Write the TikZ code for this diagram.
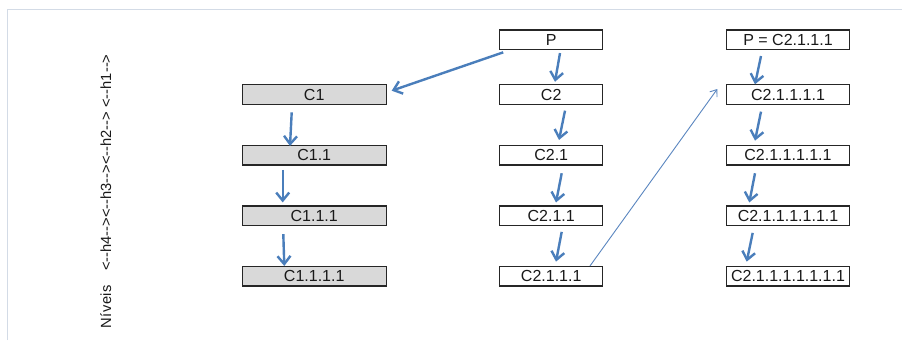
\documentclass[tikz,border=0pt]{standalone}
\usepackage{fontspec}
\setmainfont{Liberation Sans}[Ligatures=TeXOff]
\usetikzlibrary{arrows.meta,calc}
\definecolor{arrowblue}{HTML}{4A7EBB}
\definecolor{thinblue}{HTML}{5A86C0}
\definecolor{framegray}{HTML}{D3DBE6}
\definecolor{boxgray}{HTML}{D9D9D9}

\begin{document}
\begin{tikzpicture}[x=1pt,y=-1pt,
  box/.style={draw=black!85, line width=1.2pt, minimum height=19.5pt, inner sep=2pt,
              font=\fontsize{16}{18}\selectfont, text=black!90},
  leftbox/.style={box, fill=boxgray, minimum width=143.8pt},
  midbox/.style={box, fill=white, minimum width=102.8pt},
  rightbox/.style={box, fill=white, minimum width=122.8pt},
  link/.style={draw=arrowblue, line width=2.4pt, -{Straight Barb[length=8pt,width=13pt]}},
  jump/.style={draw=thinblue, line width=0.9pt, -{Straight Barb[length=6pt,width=9pt]}},
  frameline/.style={draw=framegray, line width=1pt},
]
\useasboundingbox (0,0) rectangle (902,340);
\fill[white] (0,0) rectangle (902,340);

% frame edges
\coordinate (ftl) at (7,9);
\coordinate (ftr) at (902,9);
\coordinate (fbl) at (7,340);
\draw[frameline] (fbl) -- (ftl) -- (ftr);

% level legend (the word is slightly letter-spaced)
\node[rotate=90, anchor=base west, inner sep=0pt, font=\fontsize{14.7}{17}\selectfont, text=black!90]
  (levels) at (111,329)
  {N\kern0.6pt í\kern0.6pt v\kern0.6pt e\kern0.6pt i\kern0.6pt s\hspace{14pt}<--h4--><--h3--><--h2--> <--h1-->};

% first chain
\node[leftbox] (c1)    at (314.2,94.6)  {C1};
\node[leftbox] (c11)   at (314.2,155.3) {C1.1};
\node[leftbox] (c111)  at (314.2,215.8) {C1.1.1};
\node[leftbox] (c1111) at (314.2,276.3) {C1.1.1.1};

% second chain
\node[midbox] (p)     at (551.2,39.7)  {P};
\node[midbox] (c2)    at (551.2,94.6)  {C2};
\node[midbox] (c21)   at (551.2,155.3) {C2.1};
\node[midbox] (c211)  at (551.2,215.8) {C2.1.1};
\node[midbox] (c2111) at (551.2,276.3) {C2.1.1.1};

% third chain
\node[rightbox] (q)  at (788,39.7)  {P = C2.1.1.1};
\node[rightbox] (d1) at (788,94.6)  {C2.1.1.1.1};
\node[rightbox] (d2) at (788,155.3) {C2.1.1.1.1.1};
\node[rightbox] (d3) at (788,215.8) {C2.1.1.1.1.1.1};
\node[rightbox] (d4) at (788,276.3) {C2.1.1.1.1.1.1.1};

% links of the first chain
\draw[link] ($(p.south west)+(4,2.3)$) -- ($(c1.east)+(5,-3.9)$);
\draw[link] ($(c1.south)+(-22.5,7.4)$)   -- ($(c11.north)+(-24.2,1)$);
\draw[link] ($(c11.south)+(-31.5,4.3)$)  -- ($(c111.north)+(-31.5,-3)$);
\draw[link] ($(c111.south)+(-30.9,8)$)   -- ($(c1111.north)+(-29.9,0)$);

% links of the second chain
\draw[link] ($(p.south)+(8.8,3)$)      -- ($(c2.north)+(3.8,-2.5)$);
\draw[link] ($(c2.south)+(13.8,5.7)$)  -- ($(c21.north)+(7.8,-5)$);
\draw[link] ($(c21.south)+(10.5,7.6)$) -- ($(c211.north)+(4.8,-3)$);
\draw[link] ($(c211.south)+(10.5,5.7)$) -- ($(c2111.north)+(4.8,-4.3)$);

% links of the third chain
\draw[link] ($(q.south)+(-27,6)$)     -- ($(d1.north)+(-33,0)$);
\draw[link] ($(d1.south)+(-27,6.7)$)  -- ($(d2.north)+(-33,-4.3)$);
\draw[link] ($(d2.south)+(-33,7.6)$)  -- ($(d3.north)+(-38.7,-3)$);
\draw[link] ($(d3.south)+(-35.3,6.7)$) -- ($(d4.north)+(-41.3,-4.3)$);

% jump to the new parent
\draw[jump] ($(c2111.north)+(38.8,0)$) -- ($(d1.west)+(-8.7,-5.6)$);
\end{tikzpicture}
\end{document}
